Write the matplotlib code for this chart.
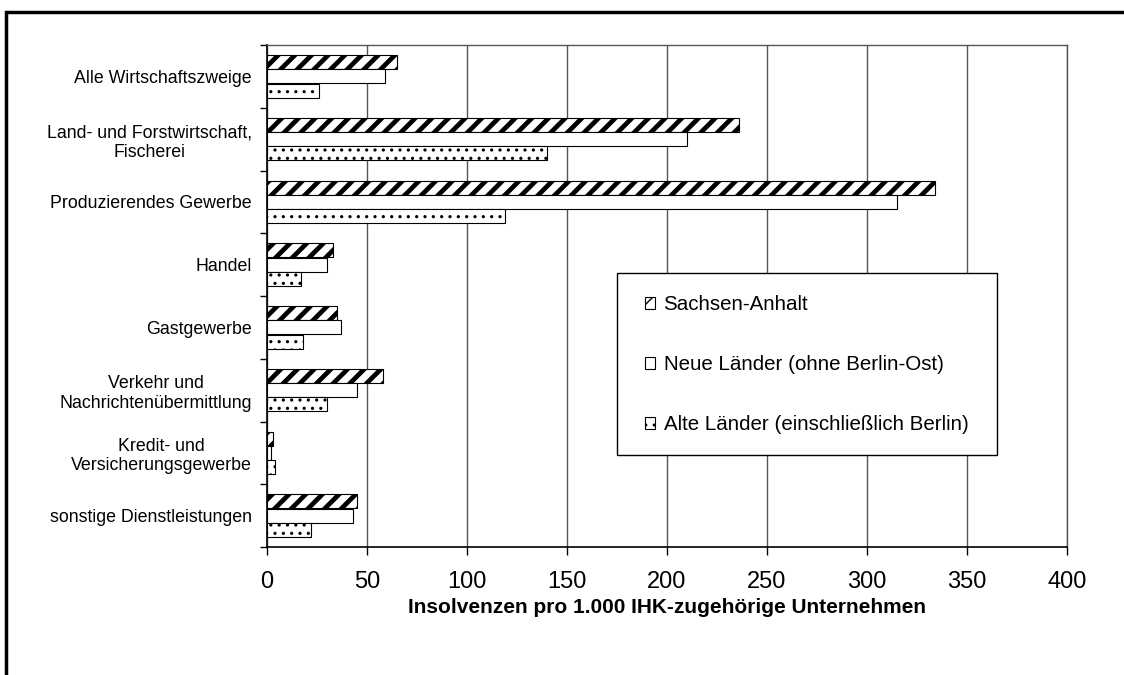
import matplotlib
matplotlib.use("Agg")
import matplotlib.pyplot as plt
from matplotlib.patches import Rectangle
import numpy as np

# Data
categories = [
    "Alle Wirtschaftszweige",
    "Land- und Forstwirtschaft,\nFischerei",
    "Produzierendes Gewerbe",
    "Handel",
    "Gastgewerbe",
    "Verkehr und\nNachrichtenübermittlung",
    "Kredit- und\nVersicherungsgewerbe",
    "sonstige Dienstleistungen",
]
series_names = [
    "Sachsen-Anhalt",
    "Neue Länder (ohne Berlin-Ost)",
    "Alte Länder (einschließlich Berlin)",
]
sachsen_anhalt = [65, 236, 334, 33, 35, 58, 3, 45]
neue_laender = [59, 210, 315, 30, 37, 45, 2, 43]
alte_laender = [26, 140, 119, 17, 18, 30, 4, 22]
x_ticks = [0, 50, 100, 150, 200, 250, 300, 350, 400]

plt.rcParams["font.family"] = ["Liberation Sans", "DejaVu Sans"]

fig = plt.figure(figsize=(11.24, 6.75), dpi=100)
ax = fig.add_axes([267 / 1124, 1 - 547 / 675, 800 / 1124, 502 / 675])

# outer frame (only top and left edges visible in the crop)
fig.patches.append(Rectangle((6 / 1124, -0.1), 1.2, 1 - 12 / 675 + 0.1,
                             transform=fig.transFigure, fill=False,
                             edgecolor="black", linewidth=2.5, zorder=0))

y = np.arange(len(categories)) + 0.5
h = 0.22
styles = [
    (dict(facecolor="white", edgecolor="black", hatch="//"), 3.4),
    (dict(facecolor="white", edgecolor="black", hatch=None), 1.0),
    (dict(facecolor="white", edgecolor="black", hatch=".."), 1.1),
]
handles = []
for k, (vals, name, (st, hlw)) in enumerate(zip([sachsen_anhalt, neue_laender, alte_laender],
                                                series_names, styles)):
    with plt.rc_context({"hatch.linewidth": hlw}):
        bars = ax.barh(y + (k - 1) * 0.227, vals, height=h, label=name,
                       linewidth=0.8, zorder=3, **st)
    for b in bars:
        if hasattr(b, "set_hatch_linewidth"):
            b.set_hatch_linewidth(hlw)
    handles.append(bars)

ax.set_xlim(0, 400)
ax.set_ylim(len(categories), 0)
ax.set_xticks(x_ticks)
ax.set_xticklabels([str(t) for t in x_ticks], fontsize=17)
ax.xaxis.grid(True, color="#555555", linewidth=1.0, zorder=0)
ax.tick_params(axis="x", direction="out", length=6, width=1, pad=11)

ax.set_yticks(y)
ax.set_yticklabels(categories, fontsize=12.8)
for lab in ax.get_yticklabels():
    lab.set_multialignment("center")
ax.set_yticks(np.arange(len(categories) + 1), minor=True)
ax.tick_params(axis="y", which="major", length=0, pad=11)
ax.tick_params(axis="y", which="minor", length=5, width=1, direction="out")

for s in ["top", "right"]:
    ax.spines[s].set_color("#555555")
    ax.spines[s].set_linewidth(1.0)
for s in ["left", "bottom"]:
    ax.spines[s].set_color("black")
    ax.spines[s].set_linewidth(1.2)

ax.set_xlabel("Insolvenzen pro 1.000 IHK-zugehörige Unternehmen",
              fontsize=15, fontweight="bold", labelpad=4)

# legend: frame drawn separately to match the reference box
fig.patches.append(Rectangle((617 / 1124, 1 - 455 / 675), 380 / 1124, 182 / 675,
                             transform=fig.transFigure, facecolor="white",
                             edgecolor="black", linewidth=1.0, zorder=4))
leg = fig.legend(handles, series_names, loc="upper left",
                 bbox_to_anchor=(645 / 1124, 1 - 295 / 675),
                 borderaxespad=0, fontsize=14.8, frameon=False,
                 handlelength=0.5, handleheight=0.5, handletextpad=0.4,
                 labelspacing=2.0, borderpad=0)
leg.set_zorder(5)

fig.savefig("out.png", dpi=100)
